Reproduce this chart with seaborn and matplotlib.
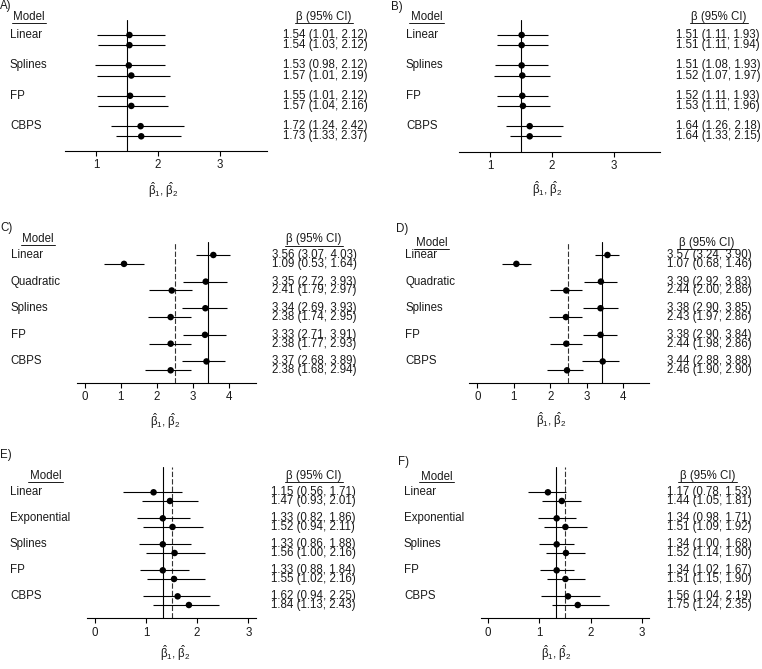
import matplotlib
matplotlib.use('Agg')
import matplotlib.pyplot as plt
import seaborn as sns
import pandas as pd
from matplotlib.lines import Line2D

# ---------------- data ----------------
models_AB = ['Linear', 'Splines', 'FP', 'CBPS']
models_CD = ['Linear', 'Quadratic', 'Splines', 'FP', 'CBPS']
models_EF = ['Linear', 'Exponential', 'Splines', 'FP', 'CBPS']

# interleaved: for each model, beta1 row then beta2 row
A_est = [1.54, 1.54, 1.53, 1.57, 1.55, 1.57, 1.72, 1.73]
A_lo = [1.01, 1.03, 0.98, 1.01, 1.01, 1.04, 1.24, 1.33]
A_hi = [2.12, 2.12, 2.12, 2.19, 2.12, 2.16, 2.42, 2.37]

B_est = [1.51, 1.51, 1.51, 1.52, 1.52, 1.53, 1.64, 1.64]
B_lo = [1.11, 1.11, 1.08, 1.07, 1.11, 1.11, 1.26, 1.33]
B_hi = [1.93, 1.94, 1.93, 1.97, 1.93, 1.96, 2.18, 2.15]

C_est = [3.56, 1.09, 3.35, 2.41, 3.34, 2.38, 3.33, 2.38, 3.37, 2.38]
C_lo = [3.07, 0.53, 2.72, 1.79, 2.69, 1.74, 2.71, 1.77, 2.68, 1.68]
C_hi = [4.03, 1.64, 3.93, 2.97, 3.93, 2.95, 3.91, 2.93, 3.89, 2.94]

D_est = [3.57, 1.07, 3.39, 2.44, 3.38, 2.43, 3.38, 2.44, 3.44, 2.46]
D_lo = [3.24, 0.68, 2.92, 2.00, 2.90, 1.97, 2.90, 1.98, 2.88, 1.90]
D_hi = [3.90, 1.46, 3.83, 2.86, 3.85, 2.86, 3.84, 2.86, 3.88, 2.90]

E_est = [1.15, 1.47, 1.33, 1.52, 1.33, 1.56, 1.33, 1.55, 1.62, 1.84]
E_lo = [0.56, 0.93, 0.82, 0.94, 0.86, 1.00, 0.88, 1.02, 0.94, 1.13]
E_hi = [1.71, 2.01, 1.86, 2.11, 1.88, 2.16, 1.84, 2.16, 2.25, 2.43]

F_est = [1.17, 1.44, 1.34, 1.51, 1.34, 1.52, 1.34, 1.51, 1.56, 1.75]
F_lo = [0.78, 1.05, 0.98, 1.09, 1.00, 1.14, 1.02, 1.15, 1.04, 1.24]
F_hi = [1.53, 1.81, 1.71, 1.92, 1.68, 1.90, 1.67, 1.90, 2.19, 2.35]

# reference lines (solid, dashed)
ref_solid = {'A': 1.5, 'B': 1.5, 'C': 3.41, 'D': 3.41, 'E': 1.33, 'F': 1.33}
ref_dashed = {'A': None, 'B': None, 'C': 2.5, 'D': 2.5, 'E': 1.5, 'F': 1.5}

xticks_AB = [1, 2, 3]
xticks_CD = [0, 1, 2, 3, 4]
xticks_EF = [0, 1, 2, 3]

DATA = {
    'A': (models_AB, A_est, A_lo, A_hi, xticks_AB, (0.5, 3.76)),
    'B': (models_AB, B_est, B_lo, B_hi, xticks_AB, (0.5, 3.74)),
    'C': (models_CD, C_est, C_lo, C_hi, xticks_CD, (-0.21, 4.74)),
    'D': (models_CD, D_est, D_lo, D_hi, xticks_CD, (-0.23, 4.71)),
    'E': (models_EF, E_est, E_lo, E_hi, xticks_EF, (-0.15, 3.15)),
    'F': (models_EF, F_est, F_lo, F_hi, xticks_EF, (-0.136, 3.14)),
}

# ---------------- layout (pixels) ----------------
W, H = 762, 669
LAYOUT = {
    'A': dict(ax=(65, 267, 20, 151), y0=35, s=10.13, lab=(0, 6), mx=10,
              hm=(29, 17), hb=(324, 17), nx=283, xl=(163, 190)),
    'B': dict(ax=(459, 660, 20, 152), y0=35, s=10.13, lab=(391, 7), mx=406,
              hm=(426.5, 17), hb=(719, 17), nx=676, xl=(547, 189)),
    'C': dict(ax=(77, 256, 241.7, 383), y0=255, s=8.87, lab=(0, 228), mx=10.5,
              hm=(38, 239.3), hb=(314, 239.3), nx=271.5, xl=(165, 421)),
    'D': dict(ax=(469, 649, 241.7, 383), y0=255, s=8.87, lab=(396, 229), mx=405,
              hm=(431.5, 243), hb=(706.5, 243), nx=667, xl=(551, 420)),
    'E': dict(ax=(87, 256, 466.7, 618.3), y0=492.3, s=8.67, lab=(0, 455), mx=10,
              hm=(45.5, 476), hb=(314, 476), nx=271, xl=(175, 653)),
    'F': dict(ax=(480.7, 649.3, 466.7, 618.3), y0=492.3, s=8.67, lab=(398, 461.5), mx=404,
              hm=(436.5, 476.5), hb=(707.5, 476), nx=667, xl=(556, 653)),
}

sns.set_theme(style='white')
plt.rcParams['font.family'] = ['Liberation Sans', 'DejaVu Sans']
plt.rcParams['mathtext.fontset'] = 'custom'
plt.rcParams['mathtext.rm'] = 'Liberation Sans'
plt.rcParams['mathtext.it'] = 'Liberation Sans'
plt.rcParams['mathtext.default'] = 'regular'

FS = 8.3
TC = '#1a1a1a'
LW = 0.8

fig = plt.figure(figsize=(W / 100, H / 100), dpi=100)


def fx(x):
    return x / W


def fy(y):
    return 1 - y / H


underline_texts = []

for key in ['A', 'B', 'C', 'D', 'E', 'F']:
    models, est, lo, hi, xticks, xlim = DATA[key]
    L = LAYOUT[key]
    left, right, top, bottom = L['ax']
    ax = fig.add_axes([fx(left), fy(bottom), (right - left) / W, (bottom - top) / H])

    rows = []
    for i, m in enumerate(models):
        for j in range(2):
            idx = 2 * i + j
            rows.append(dict(model=m, k=3 * i + j, est=est[idx], lo=lo[idx], hi=hi[idx]))
    df = pd.DataFrame(rows)

    ax.hlines(df['k'], df['lo'], df['hi'], color='black', lw=LW, zorder=2)
    sns.scatterplot(data=df, x='est', y='k', ax=ax, color='black', s=22,
                    edgecolor='none', legend=False, zorder=4)
    ax.axvline(ref_solid[key], color='black', lw=LW, zorder=1)
    if ref_dashed[key] is not None:
        ax.axvline(ref_dashed[key], color='#333333', lw=LW, dashes=(4.8, 1.9), zorder=1)

    ax.set_xlim(*xlim)
    ax.set_ylim((bottom - L['y0']) / L['s'], (top - L['y0']) / L['s'])
    ax.set_xticks(xticks)
    ax.set_xticklabels([str(t) for t in xticks])
    ax.set_yticks([])
    ax.set_xlabel('')
    ax.set_ylabel('')
    sns.despine(ax=ax, left=True, top=True, right=True)
    ax.spines['bottom'].set_linewidth(LW)
    ax.spines['bottom'].set_color('black')
    ax.tick_params(axis='x', direction='out', length=3.6, width=LW, colors='black',
                   labelsize=FS, labelcolor=TC, pad=2.5, bottom=True)
    ax.patch.set_alpha(0)

    # panel label
    fig.text(fx(L['lab'][0]), fy(L['lab'][1]), f'{key})', fontsize=FS, color=TC,
             ha='left', va='center')
    # headers
    tm = fig.text(fx(L['hm'][0]), fy(L['hm'][1]), 'Model', fontsize=FS, color=TC,
                  ha='center', va='center')
    tb = fig.text(fx(L['hb'][0]), fy(L['hb'][1]), 'β (95% CI)', fontsize=FS, color=TC,
                  ha='center', va='center')
    underline_texts.append((tm, L['hm'][1] + 5.8))
    underline_texts.append((tb, L['hb'][1] + 6.3))

    # model names and numbers
    for _, r in df.iterrows():
        ypx = L['y0'] + L['s'] * r['k']
        if r['k'] % 3 == 0:
            fig.text(fx(L['mx']), fy(ypx), r['model'], fontsize=FS, color=TC,
                     ha='left', va='center')
        fig.text(fx(L['nx']), fy(ypx), f"{r['est']:.2f} ({r['lo']:.2f}, {r['hi']:.2f})",
                 fontsize=FS, color=TC, ha='left', va='center')

    # x label
    fig.text(fx(L['xl'][0]), fy(L['xl'][1]), r'$\hat{\beta}_1$, $\hat{\beta}_2$',
             fontsize=FS, color=TC, ha='center', va='center')

# underline headers
fig.canvas.draw()
renderer = fig.canvas.get_renderer()
for t, ypx in underline_texts:
    bb = t.get_window_extent(renderer)
    x0 = bb.x0 - 1.5
    x1 = bb.x1 + 1.5
    fig.add_artist(Line2D([x0 / W, x1 / W], [fy(ypx), fy(ypx)], transform=fig.transFigure,
                          color=TC, lw=0.7))

fig.savefig('out.png', dpi=100)
